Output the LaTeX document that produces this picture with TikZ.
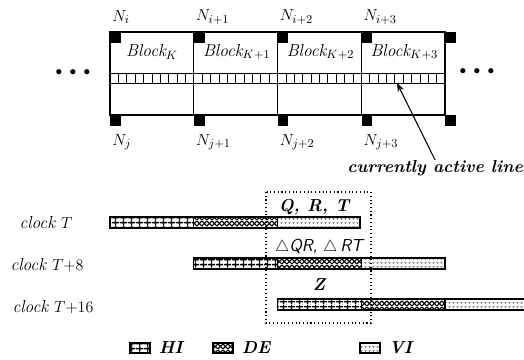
\documentclass[tikz,border=0pt]{standalone}
\usepackage{amsmath, amssymb}
\usetikzlibrary{positioning, arrows.meta, patterns.meta}

\tikzdeclarepattern{
  name=hicell, type=uncolored,
  bounding box={(0,0) and (6pt,3.5pt)}, tile size={(6pt,3.5pt)},
  code={\draw[line width=1pt] (0,1.75pt) -- (6pt,1.75pt) (3pt,0) -- (3pt,3.5pt);}
}
\tikzdeclarepattern{
  name=decross, type=uncolored,
  bounding box={(0,0) and (4pt,4pt)}, tile size={(4pt,4pt)},
  code={\draw[line width=.9pt] (0,0) -- (4pt,4pt) (0,4pt) -- (4pt,0);}
}
\tikzdeclarepattern{
  name=videots, type=uncolored,
  bounding box={(0,0) and (3pt,3pt)}, tile size={(3pt,3pt)},
  code={\draw[line width=.35pt] (0,1.5pt) -- (3pt,1.5pt) (1.5pt,0) -- (1.5pt,1pt);}
}

\begin{document}
\begin{tikzpicture}[x=0.75pt, y=-0.75pt, >=Stealth,
    txt/.style={font=\fontsize{13}{15}\selectfont\itshape, inner sep=0pt},
    bold/.style={font=\fontsize{13}{15}\selectfont\bfseries\itshape, inner sep=0pt},
    knot/.style={fill=black, minimum size=8pt, inner sep=0pt, anchor=north west},
    hi/.style={draw, line width=1pt, pattern=hicell},
    de/.style={draw, line width=1pt, pattern=decross},
    vi/.style={draw, line width=1pt, pattern=videots, pattern color=black!75},
    key/.style={minimum width=15pt, minimum height=7.5pt, inner sep=0pt}]
  \useasboundingbox (0,0) rectangle (524,360);

  % memory blocks and nodes
  \draw[line width=1pt] (110,32) rectangle (445,115);
  \foreach \k in {1,2,3}
    \draw[line width=1pt] (110+83.75*\k,32) -- (110+83.75*\k,115);
  \draw[line width=.5pt] (110,73) -- (445,73) (110,83) -- (445,83);
  \foreach \c in {1,...,39}
    \draw[line width=.4pt] (110+8.375*\c,73) -- (110+8.375*\c,83);
  \foreach \k in {0,...,4} {
    \node[knot] (top\k) at (110+83.75*\k,32) {};
    \node[knot] (bot\k) at (110+83.75*\k,115) {};
  }
  \node[txt, anchor=west] (ni0) at (112,17) {$N_i$};
  \node[txt, anchor=west] (nj0) at (112,142) {$N_j$};
  \node[txt, anchor=center] (blk0) at (152,52) {Block$_K$};
  \foreach \k in {1,2,3} {
    \node[txt, anchor=west] (ni\k) at (112+83.75*\k,17) {$N_{i+\k}$};
    \node[txt, anchor=west] (nj\k) at (112+83.75*\k,142) {$N_{j+\k}$};
    \node[txt] (blk\k) at (153+83.75*\k,52) {Block$_{K+\k}$};
  }
  \node[inner sep=0pt] (ldots) at (73,73) {$\bullet\ \bullet\ \bullet$};
  \node[inner sep=0pt] (rdots) at (477,72) {$\bullet\ \bullet\ \bullet$};
  \coordinate (cell) at (397,83);
  \node[bold, anchor=east] (act) at (523,168) {currently active line};
  \draw[->, line width=.8pt] (act.north) -- (cell);

  % pipeline over the clocks
  \node[txt] (c0) at (46,223) {clock $T$};
  \node[txt] (c8) at (47,265) {clock $T{+}8$};
  \node[txt] (c16) at (53,307) {clock $T{+}16$};

  \draw[hi] (110,217) rectangle (193.75,228);
  \draw[de] (193.75,217) rectangle (277.5,228);
  \draw[vi] (277.5,217) rectangle (360,228);

  \draw[hi] (193.75,258) rectangle (277.5,269);
  \draw[de] (277.5,258) rectangle (361.25,269);
  \draw[vi] (361.25,258) rectangle (445,269);

  \draw[hi] (277.5,299) rectangle (361.25,310);
  \draw[de] (361.25,299) rectangle (445,310);
  \draw[vi] (445,299) rectangle (527,310);

  \draw[dotted, line width=.8pt] (266,192) rectangle (371,323);
  \node[bold] (qrt) at (314,207) {Q, R, T};
  \node[txt, font=\fontsize{13}{15}\selectfont\sffamily\itshape] (dqr) at (319,247)
    {$\triangle$QR, $\triangle$\,RT};
  \node[bold] (z) at (319,285) {Z};

  % legend
  \node[key, hi] (hikey) at (140,348) {};
  \node[bold, right=6pt of hikey] (hitxt) {HI};
  \node[key, de] (dekey) at (223,348) {};
  \node[bold, right=6pt of dekey] (detxt) {DE};
  \node[key, vi] (vikey) at (370,348) {};
  \node[bold, right=6pt of vikey] (vitxt) {VI};
\end{tikzpicture}
\end{document}
